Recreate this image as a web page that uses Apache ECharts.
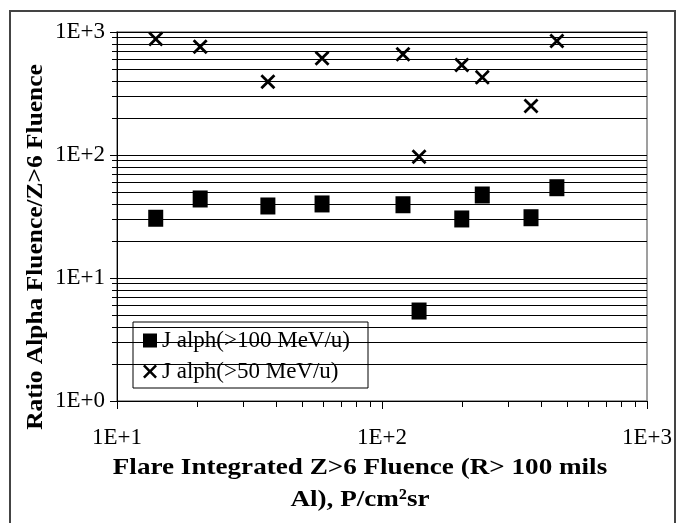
<!DOCTYPE html>
<html><head><meta charset="utf-8">
<script src="https://cdn.jsdelivr.net/npm/echarts@6/dist/echarts.min.js"></script>
<style>html,body{margin:0;padding:0;background:#fff}#c{width:684px;height:523px}</style>
</head><body><div id="c"></div>
<script>
// Data
const fluence = [14.0, 20.6, 37.1, 59.4, 120, 138, 200, 239, 365, 457];
const alph100 = [30.6, 43.9, 38.5, 40.0, 39.4, 5.39, 30.2, 47.3, 30.9, 54.2];
const alph50  = [877, 759, 394, 611, 659, 96.9, 539, 428, 250, 845];
const seriesNames = ['J alph(>100 MeV/u)', 'J alph(>50 MeV/u)'];
const yMajor = [1, 10, 100, 1000];
const yMajorLabels = ['1E+0', '1E+1', '1E+2', '1E+3'];
const xMajor = [10, 100, 1000];
const xMajorLabels = ['1E+1', '1E+2', '1E+3'];
const yMinor = [2,3,4,5,6,7,8,9,20,30,40,50,60,70,80,90,200,300,400,500,600,700,800,900];
const xMinor = [20,30,40,50,60,70,80,90,200,300,400,500,600,700,800,900];
const xTitle = 'Flare Integrated Z>6 Fluence (R> 100 mils\nAl), P/cm²sr';
const yTitle = 'Ratio Alpha Fluence/Z>6 Fluence';

const FONT = "'Liberation Serif', 'Times New Roman', serif";
const crossPath = 'path://M0,1.3L1.3,0L5,3.7L8.7,0L10,1.3L6.3,5L10,8.7L8.7,10L5,6.3L1.3,10L0,8.7L3.7,5Z';

function lbl(vals, labels) {
  return function (v) {
    for (let i = 0; i < vals.length; i++) if (Math.abs(v - vals[i]) < 1e-6 * vals[i]) return labels[i];
    return '';
  };
}

const chart = echarts.init(document.getElementById('c'), null, {renderer: 'canvas'});
chart.setOption({
  animation: false,
  backgroundColor: '#fff',
  grid: {left: 117, right: 37, top: 32, bottom: 122, show: true, borderColor: '#808080', borderWidth: 1.5},
  xAxis: [{
    type: 'log', logBase: 10, min: 10, max: 1000,
    axisLine: {show: true, lineStyle: {color: '#000', width: 1}},
    axisTick: {show: true, length: 8, inside: false, lineStyle: {color: '#000'}},
    axisLabel: {show: true, margin: 25, fontFamily: FONT, fontSize: 23, color: '#000', formatter: lbl(xMajor, xMajorLabels)},
    splitLine: {show: false}, minorTick: {show: false}
  }, {
    type: 'log', logBase: 10, min: 10, max: 1000, position: 'bottom', gridIndex: 0,
    axisLine: {show: false},
    axisTick: {show: true, length: 6, inside: false, customValues: xMinor, lineStyle: {color: '#000'}},
    axisLabel: {show: false},
    splitLine: {show: false}
  }],
  yAxis: [{
    type: 'log', logBase: 10, min: 1, max: 1000,
    axisLine: {show: true, lineStyle: {color: '#000', width: 1}},
    axisTick: {show: true, length: 7, inside: false, lineStyle: {color: '#000'}},
    axisLabel: {show: true, margin: 12, fontFamily: FONT, fontSize: 23, color: '#000', formatter: lbl(yMajor, yMajorLabels)},
    splitLine: {show: true, lineStyle: {color: '#000', width: 1}}
  }, {
    type: 'log', logBase: 10, min: 1, max: 1000, position: 'left', gridIndex: 0,
    axisLine: {show: false},
    axisTick: {show: true, length: 5, inside: false, customValues: yMinor, lineStyle: {color: '#000'}},
    axisLabel: {show: false},
    splitLine: {show: false}
  }],
  legend: {
    orient: 'vertical', left: 133, top: 322,
    backgroundColor: '#fff', borderColor: '#000', borderWidth: 1,
    padding: [7, 8, 5, 10], itemGap: 8, itemWidth: 14, itemHeight: 14,
    textStyle: {fontFamily: FONT, fontSize: 23, color: '#000', lineHeight: 22, width: 198, overflow: 'none'},
    data: [{name: seriesNames[0], icon: 'rect'}, {name: seriesNames[1], icon: crossPath}]
  },
  series: [{
    name: seriesNames[0], type: 'scatter', xAxisIndex: 0, yAxisIndex: 0,
    symbol: 'rect', symbolSize: [15, 17], itemStyle: {color: '#000', opacity: 1},
    data: fluence.map((x, i) => [x, alph100[i]]), z: 5,
    markLine: {
      silent: true, symbol: 'none', animation: false,
      label: {show: false},
      lineStyle: {color: '#000', width: 1, type: 'solid', opacity: 1},
      emphasis: {disabled: true},
      data: yMinor.map(v => ({yAxis: v}))
    }
  }, {
    name: seriesNames[1], type: 'scatter', xAxisIndex: 0, yAxisIndex: 0,
    symbol: crossPath, symbolSize: 15, itemStyle: {color: '#000', opacity: 1},
    data: fluence.map((x, i) => [x, alph50[i]]), z: 5
  }],
  graphic: [
    {type: 'rect', shape: {x: 10, y: 11, width: 665, height: 530}, style: {fill: 'none', stroke: '#444', lineWidth: 2}, silent: true, z: 100},
    {type: 'text', x: 360, y: 452, scaleX: 1.13, style: {text: xTitle, font: "bold 24px " + FONT, textAlign: 'center', textVerticalAlign: 'top', lineHeight: 32, fill: '#000'}},
    {type: 'text', x: 36, y: 247, rotation: Math.PI / 2, scaleX: 1.06, style: {text: yTitle, font: "bold 24px " + FONT, textAlign: 'center', textVerticalAlign: 'middle', fill: '#000'}}
  ]
});
</script></body></html>
